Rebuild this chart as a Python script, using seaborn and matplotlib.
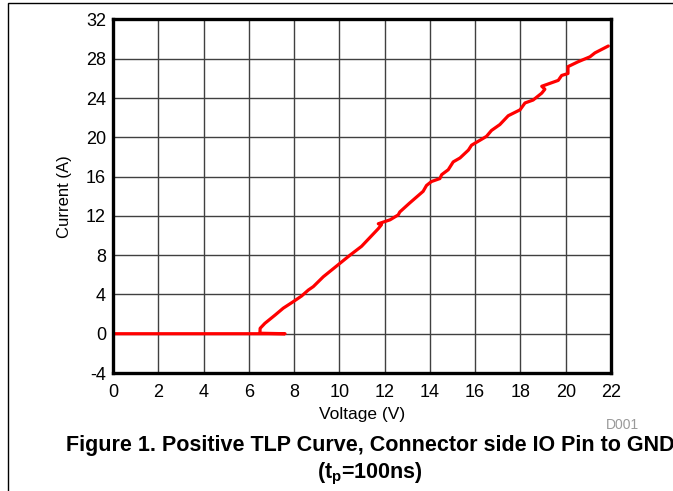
import matplotlib
matplotlib.use("Agg")
import matplotlib.pyplot as plt
import seaborn as sns
import pandas as pd
from matplotlib.patches import Rectangle

voltage = [0.0, 7.6, 6.49, 6.5, 6.71, 7.16, 7.52, 7.96, 8.33, 8.63, 8.85, 9.29, 9.88,
           10.47, 10.98, 11.35, 11.72, 11.86, 11.72, 12.24, 12.6, 12.67, 13.1, 13.7,
           13.85, 14.07, 14.44, 14.52, 14.81, 15.03, 15.33, 15.7, 15.84, 16.21, 16.5,
           16.72, 17.09, 17.46, 17.98, 18.2, 18.56, 18.94, 19.08, 18.94, 19.67, 19.82,
           20.1, 20.1, 20.55, 21.07, 21.29, 21.88]
current = [0.0, 0.0, 0.05, 0.55, 1.06, 1.9, 2.6, 3.26, 3.84, 4.45, 4.8, 5.8, 6.9,
           8.0, 8.9, 9.8, 10.7, 11.1, 11.2, 11.6, 12.1, 12.4, 13.3, 14.5,
           15.1, 15.5, 15.8, 16.2, 16.7, 17.5, 17.9, 18.7, 19.2, 19.7, 20.1,
           20.7, 21.3, 22.2, 22.8, 23.5, 23.8, 24.5, 24.9, 25.2, 25.8, 26.3,
           26.5, 27.2, 27.7, 28.2, 28.6, 29.3]
x_ticks = list(range(0, 23, 2))
y_ticks = list(range(-4, 33, 4))

sns.set_style("white")
plt.rcParams['font.family'] = ['Liberation Sans', 'DejaVu Sans']
plt.rcParams['mathtext.fontset'] = 'custom'
plt.rcParams['mathtext.rm'] = 'Liberation Sans'
plt.rcParams['mathtext.bf'] = 'Liberation Sans:bold'
plt.rcParams['axes.unicode_minus'] = False
plt.rcParams['text.color'] = 'black'
plt.rcParams['axes.labelcolor'] = 'black'

df = pd.DataFrame({"Voltage": voltage, "Current": current})

fig = plt.figure(figsize=(6.73, 4.91), dpi=100)
ax = fig.add_axes([113/673, 1 - 373/491, 498/673, 353.5/491])

sns.lineplot(data=df, x="Voltage", y="Current", sort=False, estimator=None,
             color="#ff0000", linewidth=2.3, ax=ax, zorder=3)

ax.set_xlim(0, 22)
ax.set_ylim(-4, 32)
ax.set_xticks(x_ticks)
ax.set_yticks(y_ticks)
ax.grid(True, color="#404040", linewidth=1.0)
ax.set_axisbelow(True)
for s in ax.spines.values():
    s.set_visible(True)
    s.set_color("black")
    s.set_linewidth(2.4)
    s.set_zorder(4)
ax.tick_params(axis='x', length=0, labelsize=13, colors='black', pad=8)
ax.tick_params(axis='y', length=0, labelsize=13, colors='black', pad=5)
ax.set_xlabel("Voltage (V)", fontsize=12.5, labelpad=4, color='black')
ax.set_ylabel("Current (A)", fontsize=12, labelpad=10, color='black')

fig.text(622/673, 1 - 425/491, "D001", fontsize=10, color="#999999", ha="center", va="center")
fig.text(370/673, 1 - 446/491, "Figure 1. Positive TLP Curve, Connector side IO Pin to GND",
         fontsize=15.5, fontweight="bold", color='black', ha="center", va="center")
fig.text(370/673, 1 - 474/491, r"(t$_\mathbf{p}$=100ns)",
         fontsize=15.5, fontweight="bold", color='black', ha="center", va="center")

fig.patches.append(Rectangle((8/673, -0.2), 1.2, 1.2 - 3/491, transform=fig.transFigure,
                             fill=False, edgecolor="black", linewidth=1.0))

fig.savefig("out.png", dpi=100)
